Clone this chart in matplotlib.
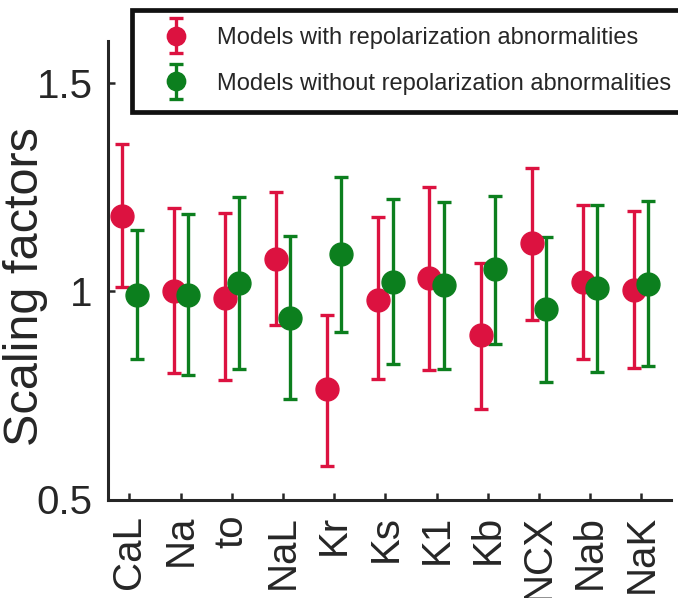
import matplotlib
matplotlib.use("Agg")
import matplotlib.pyplot as plt
import numpy as np
from matplotlib.container import ErrorbarContainer
from matplotlib.legend_handler import HandlerErrorbar

plt.rcParams['font.family'] = ['Liberation Sans', 'DejaVu Sans']

labels = ['CaL', 'Na', 'to', 'NaL', 'Kr', 'Ks', 'K1', 'Kb', 'NCX', 'Nab', 'NaK']
with_mean = [1.180, 1.001, 0.983, 1.076, 0.764, 0.979, 1.031, 0.894, 1.116, 1.022, 1.003]
with_upper = [1.352, 1.199, 1.188, 1.237, 0.943, 1.178, 1.249, 1.068, 1.295, 1.207, 1.193]
with_lower = [1.011, 0.804, 0.786, 0.919, 0.580, 0.788, 0.810, 0.717, 0.931, 0.838, 0.816]
without_mean = [0.991, 0.991, 1.019, 0.935, 1.088, 1.023, 1.015, 1.052, 0.957, 1.007, 1.017]
without_upper = [1.146, 1.186, 1.225, 1.132, 1.273, 1.221, 1.213, 1.227, 1.130, 1.207, 1.215]
without_lower = [0.836, 0.798, 0.814, 0.742, 0.903, 0.826, 0.814, 0.872, 0.783, 0.807, 0.820]
yticks = [0.5, 1, 1.5]
ytick_labels = ['0.5', '1', '1.5']
series_names = ['Models with repolarization abnormalities',
                'Models without repolarization abnormalities']

RED = '#DC1240'
GREEN = '#0C7F1E'
AX = '#262626'

fig = plt.figure(figsize=(6.78, 5.98), dpi=100)
ax = fig.add_axes([108/678, 1 - 499.5/598, (671-108)/678, (499.5-41)/598])

x = np.arange(len(labels))
off = 0.14

def draw(xpos, mean, lower, upper, color, name):
    mean = np.asarray(mean)
    yerr = np.vstack([mean - np.asarray(lower), np.asarray(upper) - mean])
    return ax.errorbar(xpos, mean, yerr=yerr, fmt='o', color=color, ecolor=color,
                       markersize=16.5, markeredgecolor=color, elinewidth=2.4,
                       capsize=5.2, capthick=2.4, label=name, zorder=3)

c1 = draw(x - off, with_mean, with_lower, with_upper, RED, series_names[0])
c2 = draw(x + off, without_mean, without_lower, without_upper, GREEN, series_names[1])

ax.set_xlim(-0.42, 10.58)
ax.set_ylim(0.5, 1.6)
ax.set_xticks(x)
ax.set_xticklabels(labels, rotation=90, fontsize=29, color=AX)
ax.set_yticks(yticks)
ax.set_yticklabels(ytick_labels, fontsize=29, color=AX)
ax.tick_params(axis='both', direction='in', length=5, width=1.8, color=AX)
ax.tick_params(axis='x', pad=11)
ax.tick_params(axis='y', pad=11)
for s in ['top', 'right']:
    ax.spines[s].set_visible(False)
for s in ['left', 'bottom']:
    ax.spines[s].set_linewidth(2.2)
    ax.spines[s].set_color(AX)

fig.text(26/678, 1 - 287/598, 'Scaling factors', rotation=90, ha='center', va='center',
         fontsize=35, color=AX)

leg = fig.legend(handles=[c1, c2], labels=series_names, loc='upper left',
                 bbox_to_anchor=(132/678, 1 - 10/598), borderaxespad=0,
                 fontsize=17, frameon=True, fancybox=False, framealpha=1,
                 edgecolor='#111111', markerscale=0.8, handlelength=2.3,
                 handletextpad=0.6, borderpad=0.72, labelspacing=1.0,
                 handler_map={ErrorbarContainer: HandlerErrorbar(xerr_size=0.5, yerr_size=0.74)})
leg.get_frame().set_linewidth(3.4)
for t in leg.get_texts():
    t.set_color(AX)

fig.savefig('out.png', dpi=100)
